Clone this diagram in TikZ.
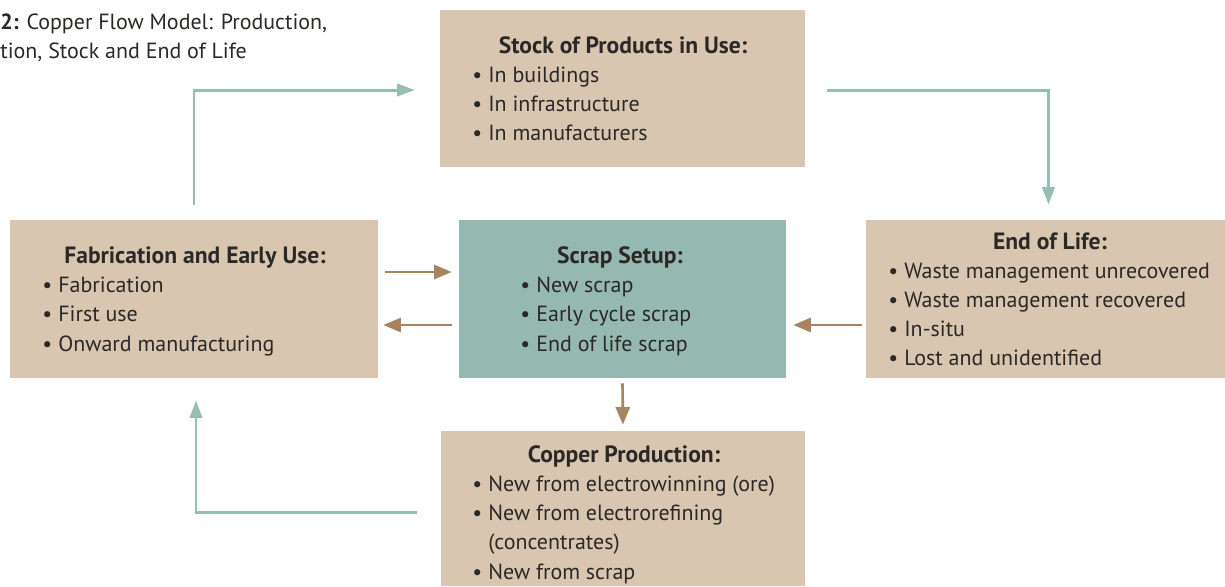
\documentclass[tikz,border=0pt]{standalone}
\usepackage{fontspec}
\setmainfont{PT Sans}
\usetikzlibrary{arrows.meta, positioning}

\definecolor{boxtan}{HTML}{D9C6B1}
\definecolor{boxteal}{HTML}{95B9B0}
\definecolor{flowteal}{HTML}{97BDB4}
\definecolor{flowbrown}{HTML}{A8835D}
\definecolor{ink}{HTML}{2B2826}

\tikzset{
  panel/.style={fill=boxtan, inner sep=0pt},
  head/.style={font=\fontsize{13.4}{16.5}\selectfont\bfseries, text=ink, inner sep=0pt, anchor=base},
  item/.style={font=\fontsize{12.5}{16.5}\selectfont, text=ink, inner sep=0pt, anchor=base west},
  loopflow/.style={draw=flowteal, line width=1.7pt, -{Triangle[length=10pt, width=7pt]}},
  swapflow/.style={draw=flowbrown, line width=1.5pt, -{Triangle[length=10pt, width=8pt]}}
}
\newcommand{\bul}{\makebox[9.1pt][l]{\textbullet}}

\begin{document}
\begin{tikzpicture}[x=0.02cm, y=-0.02cm]
\useasboundingbox (0,0) rectangle (1225,586);

% caption, cut at the left edge
\node[item] (cap1) at (0,29) {\textbf{2:} Copper Flow Model: Production,};
\node[item] (cap2) at (0,58) {tion, Stock and End of Life};

% boxes
\node[panel, minimum width=7.3cm, minimum height=3.14cm] (stock) at (622.5,88.5) {};
\node[panel, minimum width=7.36cm, minimum height=3.16cm] (fab) at (194,299) {};
\node[panel, fill=boxteal, minimum width=6.54cm, minimum height=3.16cm] (scrap) at (622.5,299) {};
\node[panel, minimum width=7.18cm, minimum height=3.16cm] (eol) at (1045.5,299) {};
\node[panel, minimum width=7.28cm, minimum height=3.1cm] (prod) at (623,508.5) {};

% Stock of products
\node[head] (stockT) at (623,53) {Stock of Products in Use:};
\foreach \t [count=\i from 0] in {In buildings, In infrastructure, In manufacturers}
  \node[item] (stock-\i) at (472,82+29*\i) {\bul\t};

% Fabrication
\node[head] (fabT) at (195,263) {Fabrication and Early Use:};
\foreach \t [count=\i from 0] in {Fabrication, First use, Onward manufacturing}
  \node[item] (fab-\i) at (42,292+29.5*\i) {\bul\t};

% Scrap
\node[head] (scrapT) at (620,263) {Scrap Setup:};
\foreach \t [count=\i from 0] in {New scrap, Early cycle scrap, End of life scrap}
  \node[item] (scrap-\i) at (520,292+29.5*\i) {\bul\t};

% End of life
\node[head] (eolT) at (1050,249) {End of Life:};
\foreach \t [count=\i from 0] in {Waste management unrecovered, Waste management recovered, In-situ, Lost and unidentified}
  \node[item] (eol-\i) at (888,278+29.3*\i) {\bul\t};

% Copper production
\node[head] (prodT) at (624,462) {Copper Production:};
\node[item] (prod-0) at (472,491) {\bul New from electrowinning (ore)};
\node[item] (prod-1) at (472,520) {\bul New from electrorefining};
\node[item] (prod-2) at (488,549) {(concentrates)};
\node[item] (prod-3) at (472,579) {\bul New from scrap};

% main loop
\draw[loopflow] ([shift={(0,-15)}]fab.north) |- ([shift={(-25,1.5)}]stock.west);
\draw[loopflow] ([shift={(22,1.5)}]stock.east) -| ([shift={(3,-15)}]eol.north);
\draw[loopflow] ([shift={(-24,3.5)}]prod.west) -| ([shift={(2,22)}]fab.south);

% scrap exchanges
\draw[swapflow] ([shift={(7,-27)}]fab.east) -- ([shift={(-7,-27)}]scrap.west);
\draw[swapflow] ([shift={(-7,26)}]scrap.west) -- ([shift={(5,26)}]fab.east);
\draw[swapflow] ([shift={(-4,26)}]eol.west) -- ([shift={(7,26)}]scrap.east);
\draw[swapflow] ([shift={(0,5)}]scrap.south) -- ([shift={(0,-6)}]prod.north);
\end{tikzpicture}
\end{document}
